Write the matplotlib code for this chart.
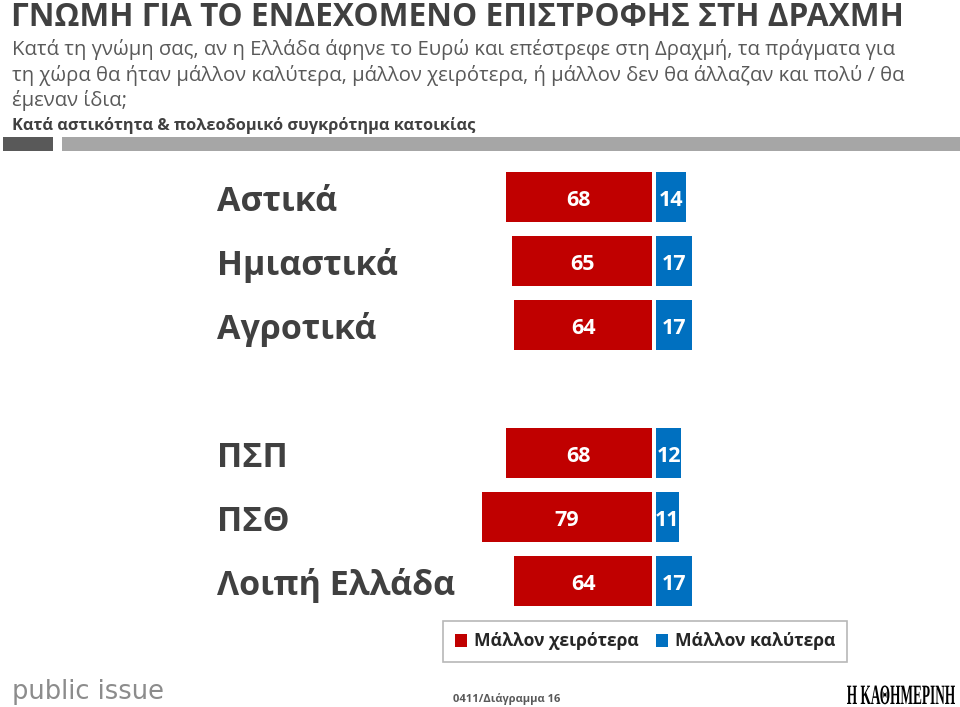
# -*- coding: utf-8 -*-
import matplotlib
matplotlib.use('Agg')
import matplotlib.pyplot as plt
from matplotlib.patches import Rectangle, Patch, PathPatch
from matplotlib.transforms import blended_transform_factory, Affine2D
from matplotlib.textpath import TextPath
from matplotlib.font_manager import FontProperties
import numpy as np

# data
categories = ['Αστικά', 'Ημιαστικά', 'Αγροτικά', 'ΠΣΠ', 'ΠΣΘ', 'Λοιπή Ελλάδα']
worse = [68, 65, 64, 68, 79, 64]
better = [14, 17, 17, 12, 11, 17]
legend_labels = ['Μάλλον χειρότερα', 'Μάλλον καλύτερα']

title = 'ΓΝΩΜΗ ΓΙΑ ΤΟ ΕΝΔΕΧΟΜΕΝΟ ΕΠΙΣΤΡΟΦΗΣ ΣΤΗ ΔΡΑΧΜΗ'
question = ['Κατά τη γνώμη σας, αν η Ελλάδα άφηνε το Ευρώ και επέστρεφε στη Δραχμή, τα πράγματα για',
            'τη χώρα θα ήταν μάλλον καλύτερα, μάλλον χειρότερα, ή μάλλον δεν θα άλλαζαν και πολύ / θα',
            'έμεναν ίδια;']
breakdown = 'Κατά αστικότητα & πολεοδομικό συγκρότημα κατοικίας'
footer = '0411/Διάγραμμα 16'

RED = '#c00000'
BLUE = '#0070c0'
DARK = '#404040'
W, H = 960, 707

plt.rcParams['font.family'] = ['Open Sans', 'DejaVu Sans']


def fx(x):
    return x / W


def fy(y):
    return 1 - y / H


fig = plt.figure(figsize=(W / 100, H / 100), dpi=100)
ax = fig.add_axes([0, 0, 1, 1])
ax.axis('off')

# pixel scale of bars: 2.15 px per percentage point, zero line at x=652
scale = 2.15
zero = 652
ax.set_xlim(-zero / scale, (W - zero) / scale)
ax.set_ylim(H, 0)

pos = np.r_[np.arange(3) * 64 + 197, np.arange(3) * 64 + 453]
ax.barh(pos, [-v for v in worse], left=0, height=50, color=RED)
ax.barh(pos, better, left=1.7, height=50, color=BLUE)

for p, w, b in zip(pos, worse, better):
    ax.text(-w / 2, p + 9.5, str(w), ha='center', va='baseline', color='white',
            fontsize=15.5, fontweight='bold')
    ax.text(1.7 + b / 2, p + 9.5, str(b), ha='center', va='baseline', color='white',
            fontsize=15.5, fontweight='bold')

lbl_tr = blended_transform_factory(ax.transAxes, ax.transData)
for p, c in zip(pos, categories):
    ax.text(fx(217), p + 14, c, transform=lbl_tr, ha='left', va='baseline',
            fontsize=24.5, fontweight='bold', color=DARK)

# header
fig.text(fx(11), fy(26), title, ha='left', va='baseline', fontsize=22.8,
         fontweight='bold', color=DARK)
for i, line in enumerate(question):
    fig.text(fx(12), fy(55 + i * 25.5), line, ha='left', va='baseline',
             fontsize=14.6, color='#595959')
fig.text(fx(12), fy(130), breakdown, ha='left', va='baseline', fontsize=11.8,
         fontweight='bold', color=DARK)

fig.patches.append(Rectangle((fx(3), fy(151)), fx(50), 14 / H, transform=fig.transFigure,
                             facecolor='#595959', edgecolor='none'))
fig.patches.append(Rectangle((fx(62), fy(151)), fx(898), 14 / H, transform=fig.transFigure,
                             facecolor='#a6a6a6', edgecolor='none'))

# legend
handles = [Patch(facecolor=RED), Patch(facecolor=BLUE)]
leg = fig.legend(handles, legend_labels, loc='center', bbox_to_anchor=(fx(645), fy(641.5)),
                 ncol=2, fontsize=12.6, frameon=True, fancybox=False, handlelength=0.7,
                 handleheight=0.7, handletextpad=0.4, columnspacing=1.0, borderpad=0.65)
leg.get_frame().set_edgecolor('#a6a6a6')
leg.get_frame().set_linewidth(1.2)
for t in leg.get_texts():
    t.set_color('#262626')
    t.set_fontweight('bold')

# footer
fig.text(fx(453), fy(702), footer, ha='left', va='baseline', fontsize=8,
         fontweight='bold', color='#595959')
fig.text(fx(12), fy(699), 'public issue', ha='left', va='baseline', fontsize=18.5,
         color='#8c8c8c', family=['DejaVu Sans'])

# newspaper logo as a condensed serif
logo = TextPath((0, 0), 'Η ΚΑΘΗΜΕΡΙΝΗ', size=28,
                prop=FontProperties(family=['Liberation Serif', 'DejaVu Serif'], weight='bold'))
ext = logo.get_extents()
sx = 108 / ext.width
tr = Affine2D().translate(-ext.x0, 0).scale(sx, 1.0).translate(847, H - 704)
fig.patches.append(PathPatch(logo, transform=tr, facecolor='black', edgecolor='none'))

fig.savefig('out.png', dpi=100)
